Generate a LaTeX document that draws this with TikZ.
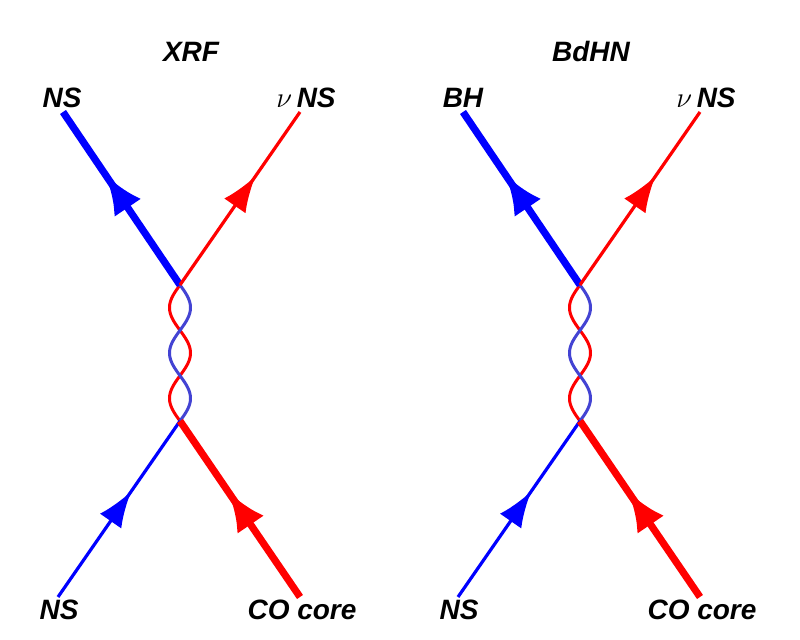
\documentclass[tikz,border=0pt]{standalone}
\usepackage{fontspec}
\setmainfont{Liberation Sans}
\usetikzlibrary{arrows.meta,decorations.markings}
\definecolor{NsBlue}{HTML}{0000FF}
\definecolor{CoRed}{HTML}{FF0000}
\definecolor{WaveBlue}{HTML}{4343D3}

\begin{document}
\begin{tikzpicture}[
    x=0.5pt,y=-0.5pt,
    lbl/.style={font=\fontsize{14}{16}\selectfont\bfseries\itshape,inner sep=0pt},
    fatline/.style={line width=3.6pt},
    thinline/.style={line width=1.6pt},
    bigarr/.style={postaction=decorate,decoration={markings,mark=at position #1 with {\arrow{Latex[length=20pt,width=16pt]}}}},
    smallarr/.style={postaction=decorate,decoration={markings,mark=at position #1 with {\arrow{Latex[length=18pt,width=13pt]}}}},
    wave/.style={line width=1.5pt,smooth,samples=90,domain=0:3}
  ]
    \useasboundingbox (0,0) rectangle (800,640);
    % left panel: XRF
    \node[lbl] (xrf) at (191,52) {XRF};
    \node[lbl] (xrfns) at (62,98) {NS};
    \node[lbl] (xrfnu) at (306,98) {$\nu$\,NS};
    \node[lbl] (xrfnsin) at (59,610) {NS};
    \node[lbl] (xrfco) at (302,610) {CO core};
    \coordinate (xrfup) at (180,285);
    \coordinate (xrfdown) at (180,421);
    \coordinate (xrfnsend) at (63,112);
    \coordinate (xrfnuend) at (300,112);
    \coordinate (xrfnsbeg) at (58,597);
    \coordinate (xrfcobeg) at (300,597);
    \draw[CoRed,wave] plot ({180-10.5*sin(180*\x)},{285+136/3*\x});
    \draw[WaveBlue,wave] plot ({180+10.5*sin(180*\x)},{285+136/3*\x});
    \draw[NsBlue,fatline,bigarr=0.64] (xrfup) -- (xrfnsend);
    \draw[CoRed,thinline,smallarr=0.63] (xrfup) -- (xrfnuend);
    \draw[NsBlue,thinline,smallarr=0.6] (xrfnsbeg) -- (xrfdown);
    \draw[CoRed,fatline,bigarr=0.6] (xrfcobeg) -- (xrfdown);
    % right panel: BdHN
    \node[lbl] (bdhn) at (591,52) {BdHN};
    \node[lbl] (bdhnbh) at (463,98) {BH};
    \node[lbl] (bdhnnu) at (706,98) {$\nu$\,NS};
    \node[lbl] (bdhnnsin) at (459,610) {NS};
    \node[lbl] (bdhnco) at (702,610) {CO core};
    \coordinate (bdhnup) at (580,285);
    \coordinate (bdhndown) at (580,421);
    \coordinate (bdhnbhend) at (463,112);
    \coordinate (bdhnnuend) at (700,112);
    \coordinate (bdhnnsbeg) at (458,597);
    \coordinate (bdhncobeg) at (700,597);
    \draw[CoRed,wave] plot ({580-10.5*sin(180*\x)},{285+136/3*\x});
    \draw[WaveBlue,wave] plot ({580+10.5*sin(180*\x)},{285+136/3*\x});
    \draw[NsBlue,fatline,bigarr=0.64] (bdhnup) -- (bdhnbhend);
    \draw[CoRed,thinline,smallarr=0.63] (bdhnup) -- (bdhnnuend);
    \draw[NsBlue,thinline,smallarr=0.6] (bdhnnsbeg) -- (bdhndown);
    \draw[CoRed,fatline,bigarr=0.6] (bdhncobeg) -- (bdhndown);
\end{tikzpicture}
\end{document}
